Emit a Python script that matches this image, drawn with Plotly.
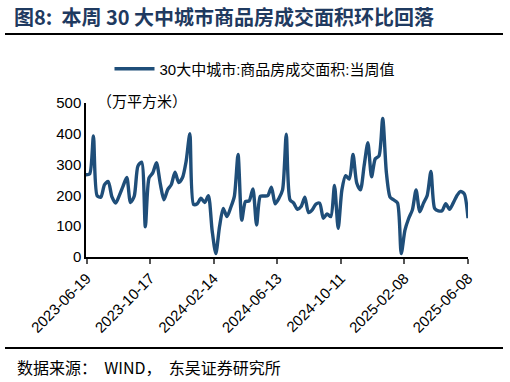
import pandas as pd
import plotly.graph_objects as go

# weekly dates (Sunday) from 2023-06-18 to 2025-06-08
dates = pd.date_range("2023-06-18", "2025-06-08", freq="7D")

values = [
    267, 270, 393, 199, 194, 235, 245, 195, 175, 200,
    230, 258, 177, 197, 295, 308, 98, 257, 273, 306,
    240, 186, 218, 235, 275, 242, 257, 311, 400, 171,
    173, 191, 177, 199, 87, 11, 98, 158, 131, 160,
    197, 333, 120, 180, 182, 221, 104, 197, 198, 199,
    227, 173, 190, 218, 399, 186, 175, 155, 164, 194,
    144, 153, 172, 175, 126, 140, 131, 232, 93, 218,
    264, 253, 333, 240, 218, 297, 371, 260, 319, 328,
    450, 273, 194, 185, 175, 11, 87, 125, 153, 218,
    147, 175, 200, 278, 158, 150, 150, 173, 155, 175,
    199, 213, 205, 126,
]

tick_dates = ["2023-06-19", "2023-10-17", "2024-02-14", "2024-06-13",
              "2024-10-11", "2025-02-08", "2025-06-08"]
y_ticks = [0, 100, 200, 300, 400, 500]

series_name = "30大中城市:商品房成交面积:当周值"
title_text = "图8:  本周 30 大中城市商品房成交面积环比回落"
unit_text = "（万平方米）"
source_text = "数据来源：  WIND，  东吴证券研究所"

LINE = "#1F4E79"
TITLE_C = "#1F3A60"

fig = go.Figure()
fig.add_trace(go.Scatter(
    x=dates, y=values, mode="lines", name=series_name,
    line=dict(color=LINE, width=3.4, shape="spline", smoothing=0.7),
))

fig.update_layout(
    width=510, height=382,
    margin=dict(l=86, r=42, t=103, b=125, autoexpand=False),
    paper_bgcolor="white", plot_bgcolor="white",
    font=dict(family="Liberation Sans, Arial, sans-serif", color="black"),
    showlegend=True,
    legend=dict(
        orientation="h", xref="container", yref="container",
        x=0.5, xanchor="center", y=(382 - 69) / 382, yanchor="middle",
        font=dict(size=15, family="Liberation Sans, Noto Sans CJK SC"),
        itemwidth=40,
    ),
    xaxis=dict(
        type="date", automargin=False,
        range=["2023-06-18", "2025-06-08"],
        tickvals=tick_dates,
        ticktext=tick_dates,
        tickangle=-45,
        tickfont=dict(size=15, family="Liberation Sans"),
        showline=True, linecolor="black", linewidth=1.5,
        ticks="outside", ticklen=5, tickcolor="#555555", tickwidth=1.5,
        showgrid=False, zeroline=False,
    ),
    yaxis=dict(
        range=[0, 500], automargin=False,
        tickvals=y_ticks,
        tickfont=dict(size=15, family="Liberation Sans"),
        showline=True, linecolor="black", linewidth=1.5,
        ticks="", showgrid=False, zeroline=False,
    ),
)

fig.add_annotation(
    xref="paper", yref="paper", x=(95 - 86) / 382, y=(257 - 100) / 154,
    text=unit_text, showarrow=False, xanchor="left", yanchor="middle",
    font=dict(size=15, family="Noto Sans CJK SC", color="black"),
)
fig.add_annotation(
    xref="paper", yref="paper", x=(12 - 86) / 382, y=(257 - 17) / 154,
    text="<b>" + title_text + "</b>", showarrow=False, xanchor="left", yanchor="middle",
    font=dict(size=20, family="Noto Sans CJK SC", color=TITLE_C),
)
fig.add_annotation(
    xref="paper", yref="paper", x=(15 - 86) / 382, y=(257 - 367) / 154,
    text=source_text, showarrow=False, xanchor="left", yanchor="middle",
    font=dict(size=16, family="Noto Sans CJK SC", color="black"),
)
fig.add_shape(type="line", xref="paper", yref="paper",
              x0=(5 - 86) / 382, x1=(503 - 86) / 382,
              y0=(257 - 34) / 154, y1=(257 - 34) / 154,
              line=dict(color="black", width=2))
fig.add_shape(type="line", xref="paper", yref="paper",
              x0=(5 - 86) / 382, x1=(503 - 86) / 382,
              y0=(257 - 348) / 154, y1=(257 - 348) / 154,
              line=dict(color="black", width=2))

fig.write_html(
    "out.html",
    config={"displayModeBar": False},
    post_script="document.body.style.margin='0';document.body.style.padding='0';",
)
